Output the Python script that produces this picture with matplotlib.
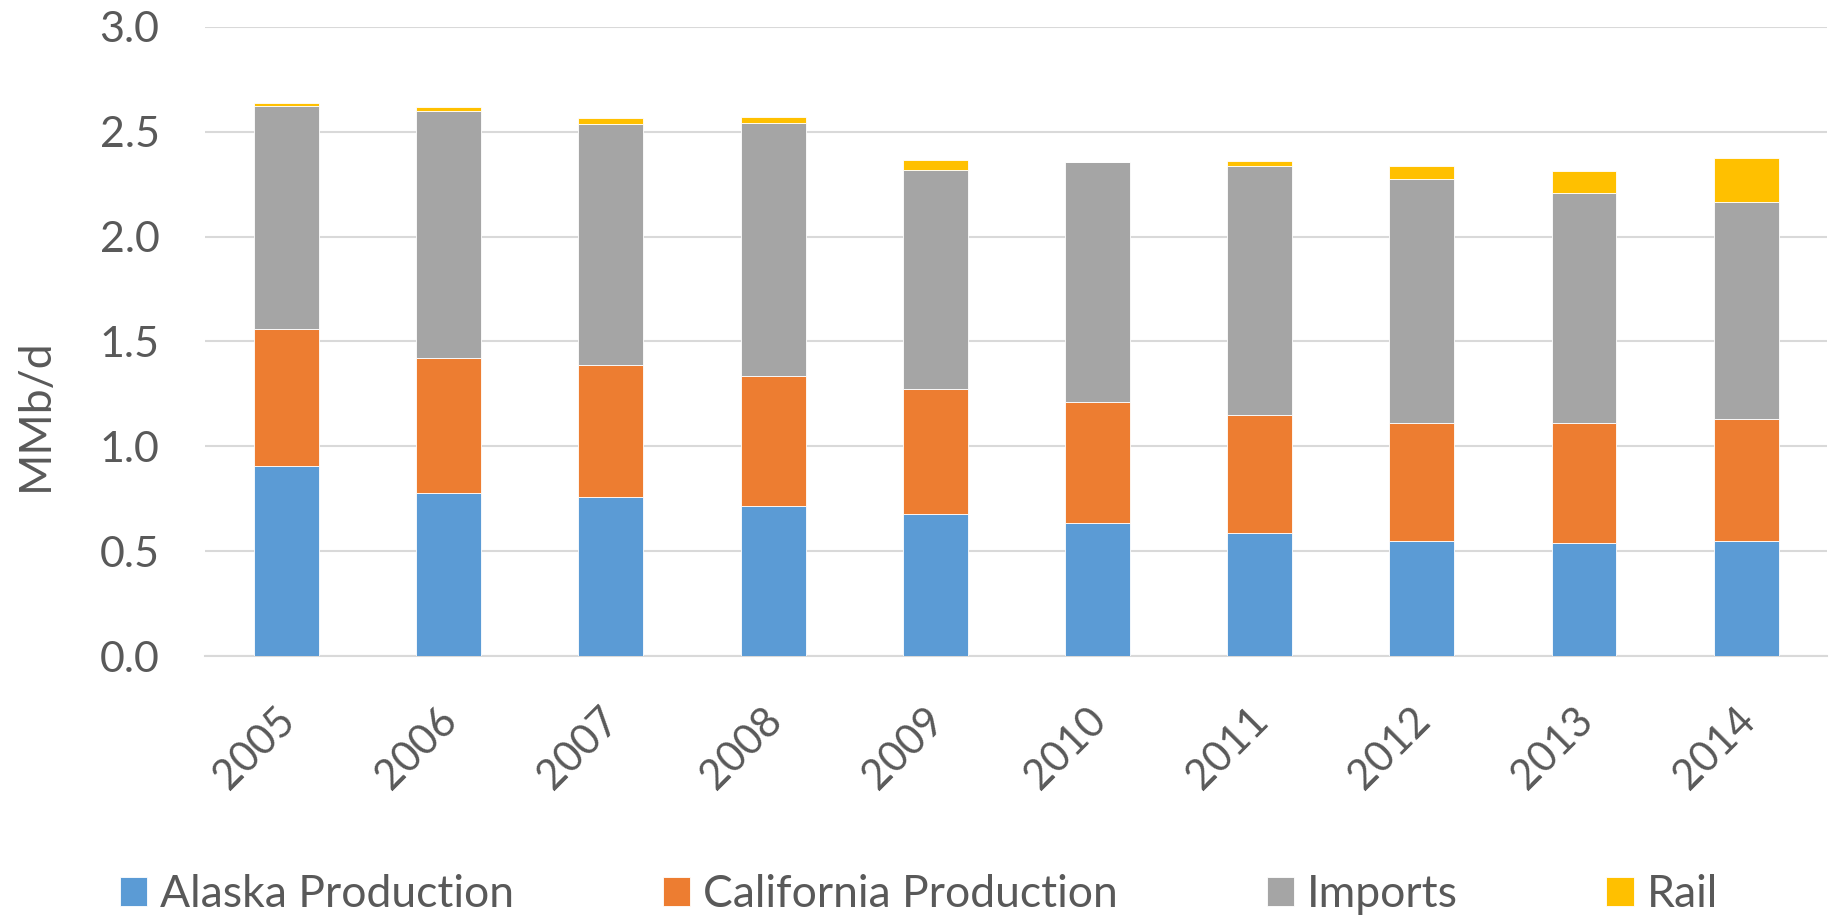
"""Crude supply to California refineries, stacked by source"""

import matplotlib
matplotlib.use('Agg')
import matplotlib.pyplot as plt
from matplotlib.transforms import ScaledTranslation
import numpy as np

years = ['2005', '2006', '2007', '2008', '2009',
         '2010', '2011', '2012', '2013', '2014']
alaska = [0.905, 0.778, 0.758, 0.716, 0.678, 0.635, 0.588, 0.550, 0.540, 0.550]
california = [0.655, 0.645, 0.630, 0.620, 0.595, 0.576, 0.560, 0.562, 0.572, 0.581]
imports = [1.061, 1.177, 1.149, 1.205, 1.044, 1.143, 1.188, 1.163, 1.096, 1.035]
rail = [0.015, 0.018, 0.029, 0.029, 0.050, 0.0, 0.027, 0.060, 0.107, 0.211]

series = [
    ('Alaska Production', alaska, '#5B9BD5'),
    ('California Production', california, '#ED7D31'),
    ('Imports', imports, '#A5A5A5'),
    ('Rail', rail, '#FFC000'),
]

text_color = '#595959'
plt.rcParams['font.family'] = ['Lato', 'DejaVu Sans']

fig = plt.figure(figsize=(18.31, 9.17), dpi=100)
ax = fig.add_axes([0.1122, 0.2846, 0.8858, 0.686])

x = np.arange(len(years))
bottom = np.zeros(len(years))
handles = []
for name, values, color in series:
    bars = ax.bar(x, values, width=0.4, bottom=bottom, color=color,
                  edgecolor='white', linewidth=0.6, label=name, zorder=3)
    handles.append(bars)
    bottom += np.array(values)

ax.set_xlim(-0.5, len(years) - 0.5)
ax.set_ylim(0, 3.0)
ax.set_yticks(np.arange(0, 3.01, 0.5))
ax.set_yticklabels(['%.1f' % v for v in np.arange(0, 3.01, 0.5)])
ax.grid(axis='y', color='#D9D9D9', linewidth=1.5, zorder=0)
for side in ['top', 'right', 'left']:
    ax.spines[side].set_visible(False)
ax.spines['bottom'].set_color('#D9D9D9')
ax.spines['bottom'].set_linewidth(1.5)

ax.set_xticks(x)
ax.set_xticklabels(years, rotation=45, ha='right', rotation_mode='anchor')
ax.tick_params(axis='y', length=0, labelsize=31, colors=text_color, pad=33)
ax.tick_params(axis='x', length=0, labelsize=30, colors=text_color, pad=14)
shift = ScaledTranslation(-8 / 72, -18 / 72, fig.dpi_scale_trans)
for label in ax.get_xticklabels():
    label.set_transform(label.get_transform() + shift)

ax.set_ylabel('MMb/d', fontsize=32, color=text_color)
ax.yaxis.set_label_coords(-0.092, 0.383)

fig.legend(handles=handles, loc='center left', bbox_to_anchor=(0.0437, 0.0245),
           ncol=4, frameon=False, fontsize=32, labelcolor=text_color,
           handlelength=0.61, handleheight=0.61, handletextpad=0.29,
           columnspacing=3.35)

fig.savefig('out.png', dpi=100)
